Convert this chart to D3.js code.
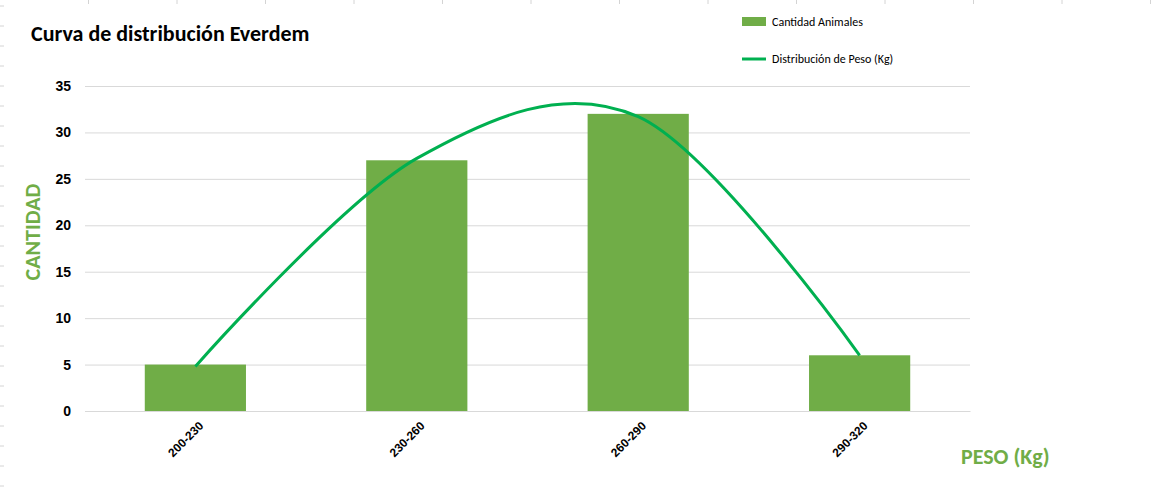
<!DOCTYPE html>
<html><head><meta charset="utf-8">
<script src="https://cdn.jsdelivr.net/npm/d3@7"></script>
<style>body{margin:0;background:#fff}svg{font-family:Calibri,Carlito,"Liberation Sans",sans-serif}</style>
</head><body><svg id="c" width="1160" height="500"></svg>
<script>
const categories = ["200-230", "230-260", "260-290", "290-320"];
const cantidad = [5, 27, 32, 6];
const distribucion = [4.8, 27.2, 31.7, 6];
const yTicks = [0, 5, 10, 15, 20, 25, 30, 35];

const svg = d3.select("#c");
const green = "#70ad47", lineGreen = "#00b050";

// sheet cell edges behind the chart
for (let i = 1; i < 14; i++) svg.append("line").attr("x1", i * 88.5).attr("x2", i * 88.5).attr("y1", 0).attr("y2", 4).attr("stroke", "#d4d4d4");
for (let i = 0; i < 25; i++) svg.append("line").attr("x1", 0).attr("x2", 4).attr("y1", 6 + i * 20).attr("y2", 6 + i * 20).attr("stroke", "#d4d4d4");

const x = d3.scaleBand().domain(categories).range([85, 970]).paddingInner(0.543).paddingOuter(0.27);
const y = d3.scaleLinear().domain([0, 35]).range([411, 86]);

const yAxis = svg.append("g").attr("transform", "translate(85,0)")
  .call(d3.axisLeft(y).tickValues(yTicks).tickSize(-885).tickPadding(14));
yAxis.select(".domain").remove();
yAxis.selectAll("line").attr("stroke", "#d9d9d9");
yAxis.selectAll("text").attr("font-size", 14).attr("font-weight", "bold").attr("fill", "#000");

svg.selectAll(".bar").data(cantidad).join("rect")
  .attr("x", (d, i) => x(categories[i])).attr("width", x.bandwidth())
  .attr("y", d => y(d)).attr("height", d => y(0) - y(d)).attr("fill", green);

const xAxis = svg.append("g").attr("transform", "translate(0,411)")
  .call(d3.axisBottom(x).tickSize(0).tickPadding(10));
xAxis.select(".domain").attr("stroke", "#d9d9d9");
xAxis.selectAll("text").attr("font-size", 12).attr("font-weight", "bold").attr("fill", "#000")
  .attr("text-anchor", "end").attr("transform", "rotate(-45)").attr("dx", "-0.4em").attr("dy", "0.6em");

const line = d3.line().x((d, i) => x(categories[i]) + x.bandwidth() / 2).y(d => y(d)).curve(d3.curveCardinal.tension(0));
svg.append("path").datum(distribucion).attr("d", line).attr("fill", "none").attr("stroke", lineGreen).attr("stroke-width", 3);

svg.append("text").attr("x", 31).attr("y", 41).attr("font-size", 22).attr("font-weight", "bold").text("Curva de distribución Everdem");
svg.append("text").attr("transform", "translate(40,232) rotate(-90)").attr("text-anchor", "middle")
  .attr("font-size", 22).attr("font-weight", "bold").attr("fill", green).text("CANTIDAD");
svg.append("text").attr("x", 961).attr("y", 464).attr("font-size", 22).attr("font-weight", "bold").attr("fill", green).text("PESO (Kg)");

svg.append("rect").attr("x", 742).attr("y", 17).attr("width", 24).attr("height", 9).attr("fill", green);
svg.append("text").attr("x", 772).attr("y", 26).attr("font-size", 12).text("Cantidad Animales");
svg.append("line").attr("x1", 742).attr("x2", 766).attr("y1", 59).attr("y2", 59).attr("stroke", lineGreen).attr("stroke-width", 3);
svg.append("text").attr("x", 772).attr("y", 63).attr("font-size", 12).text("Distribución de Peso (Kg)");
</script></body></html>
